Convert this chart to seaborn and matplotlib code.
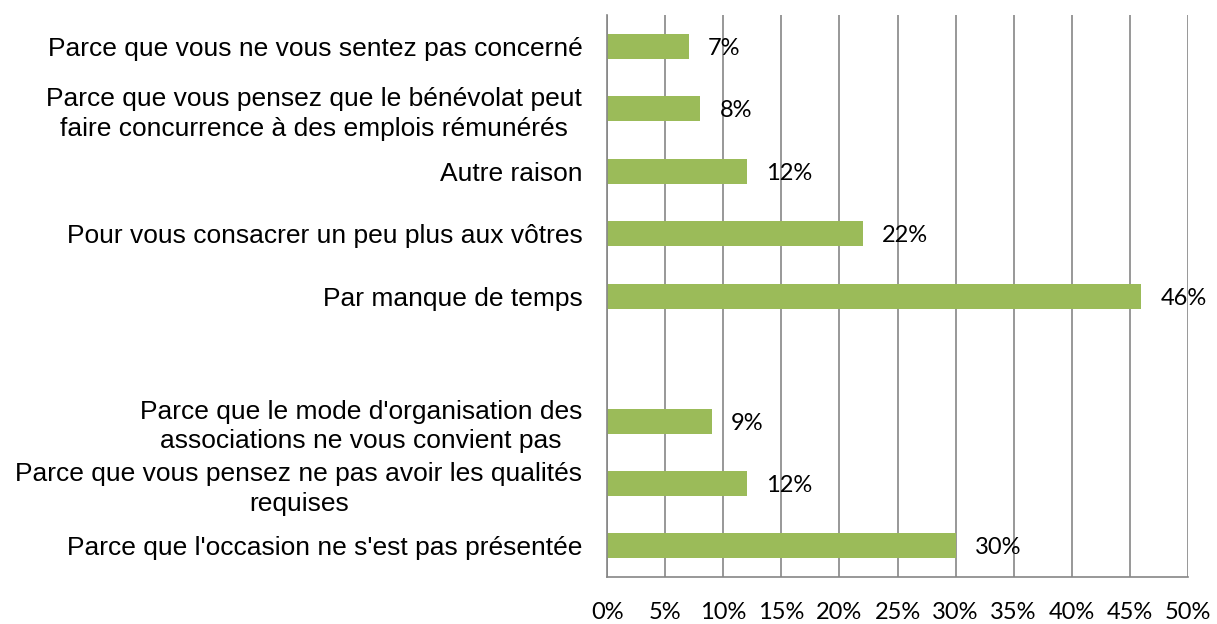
import numpy as np
import pandas as pd
import matplotlib
matplotlib.use("Agg")
import matplotlib.pyplot as plt
import seaborn as sns

# data (top to bottom), one empty slot between the two groups
reasons = [
    "Parce que vous ne vous sentez pas concerné",
    "Parce que vous pensez que le bénévolat peut\nfaire concurrence à des emplois rémunérés",
    "Autre raison",
    "Pour vous consacrer un peu plus aux vôtres",
    "Par manque de temps",
    " ",
    "Parce que le mode d'organisation des\nassociations ne vous convient pas",
    "Parce que vous pensez ne pas avoir les qualités\nrequises",
    "Parce que l'occasion ne s'est pas présentée",
]
shares = [7, 8, 12, 22, 46, np.nan, 9, 12, 30]
ticks = [0, 5, 10, 15, 20, 25, 30, 35, 40, 45, 50]

df = pd.DataFrame({"reason": reasons, "share": shares})

sns.set_style("white")
plt.rcParams["font.family"] = ["Liberation Sans", "DejaVu Sans"]

fig, ax = plt.subplots(figsize=(12.17, 6.24), dpi=100)
fig.subplots_adjust(left=0.499, right=0.976, top=0.976, bottom=0.075)

sns.barplot(data=df, x="share", y="reason", color="#9BBB59", width=0.4,
            saturation=1, linewidth=0, ax=ax)

# data labels
for i, v in enumerate(shares):
    if np.isnan(v):
        continue
    ax.annotate(f"{v:.0f}%", xy=(v, i), xytext=(14, 0), textcoords="offset points",
                ha="left", va="center_baseline", fontsize=17, color="black",
                family=["Lato", "DejaVu Sans"])

ax.set_xlim(0, 50)
ax.set_ylim(len(reasons) - 0.5, -0.5)
ax.set_xticks(ticks)
ax.set_xticklabels([f"{t}%" for t in ticks], fontsize=17, family=["Lato", "DejaVu Sans"])
ax.tick_params(axis="x", length=0, pad=18, labelcolor="black")
ax.tick_params(axis="y", length=0, pad=18, labelsize=19, labelcolor="black")
for lab in ax.get_yticklabels():
    lab.set_multialignment("center")
    lab.set_linespacing(1.3)

ax.xaxis.grid(True, color="#868686", linewidth=1.2)
ax.set_axisbelow(True)
ax.set_xlabel("")
ax.set_ylabel("")
for side in ["top", "right"]:
    ax.spines[side].set_visible(False)
for side in ["left", "bottom"]:
    ax.spines[side].set_color("#868686")
    ax.spines[side].set_linewidth(1.2)

fig.savefig("out.png", dpi=100)
